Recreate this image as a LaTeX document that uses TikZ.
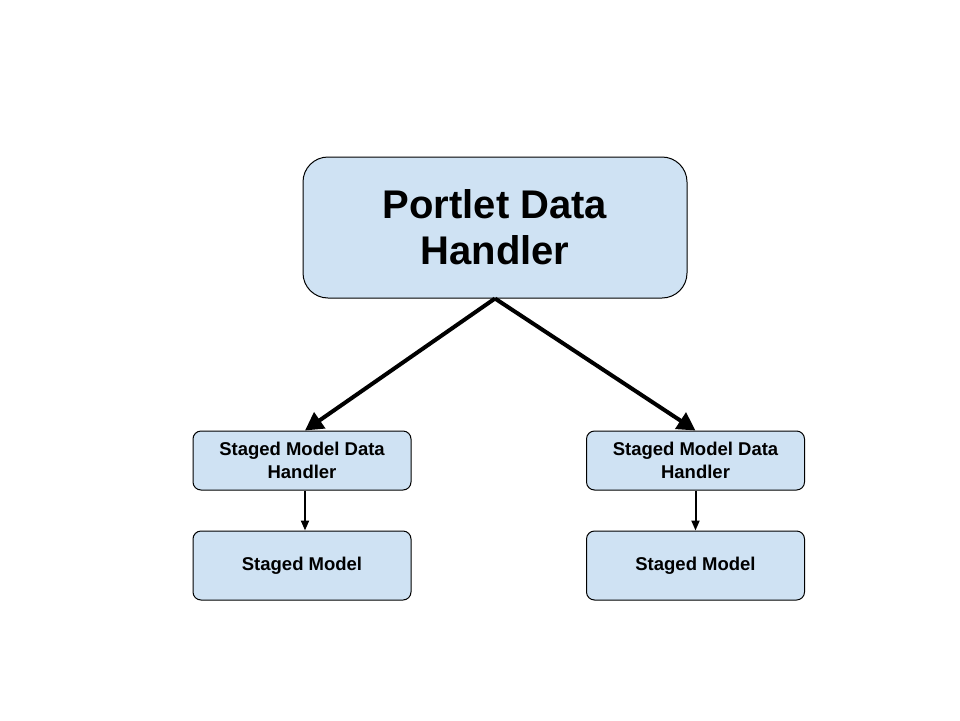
\documentclass[tikz,border=0pt]{standalone}
\usepackage{fontspec}
\setmainfont{Liberation Sans}
\usetikzlibrary{arrows.meta}
\definecolor{boxblue}{HTML}{CFE2F3}

\begin{document}
\begin{tikzpicture}[x=1pt, y=-1pt,
        box/.style={draw=black, fill=boxblue, line width=1pt, align=center, inner sep=0pt, font=\bfseries},
        big/.style={->, >={Triangle[length=18pt, width=19pt]}, line width=4pt},
        small/.style={->, >={Triangle[length=10pt, width=8pt]}, line width=2pt}]
        \useasboundingbox (0,0) rectangle (960,720);
        \node[box, rounded corners=25pt, minimum width=384pt, minimum height=141pt, font=\bfseries\fontsize{40}{46}\selectfont] (pdh) at (495,227.5) {Portlet Data\\Handler};
        \node[box, rounded corners=8pt, minimum width=218pt, minimum height=59pt, font=\bfseries\fontsize{18.5}{23}\selectfont] (smdhL) at (302,460.5) {Staged Model Data\\Handler};
        \node[box, rounded corners=8pt, minimum width=218pt, minimum height=59pt, font=\bfseries\fontsize{18.5}{23}\selectfont] (smdhR) at (695.5,460.5) {Staged Model Data\\Handler};
        \node[box, rounded corners=8pt, minimum width=218pt, minimum height=69pt, font=\bfseries\fontsize{18.5}{23}\selectfont] (smL) at (302,565.5) {Staged Model};
        \node[box, rounded corners=8pt, minimum width=218pt, minimum height=69pt, font=\bfseries\fontsize{18.5}{23}\selectfont] (smR) at (695.5,565.5) {Staged Model};
        \draw[big] (pdh.south) -- ([xshift=3pt]smdhL.north);
        \draw[big] (pdh.south) -- (smdhR.north);
        \draw[small] ([xshift=3pt]smdhL.south) -- ([xshift=3pt]smL.north);
        \draw[small] (smdhR.south) -- (smR.north);
    \end{tikzpicture}
\end{document}
